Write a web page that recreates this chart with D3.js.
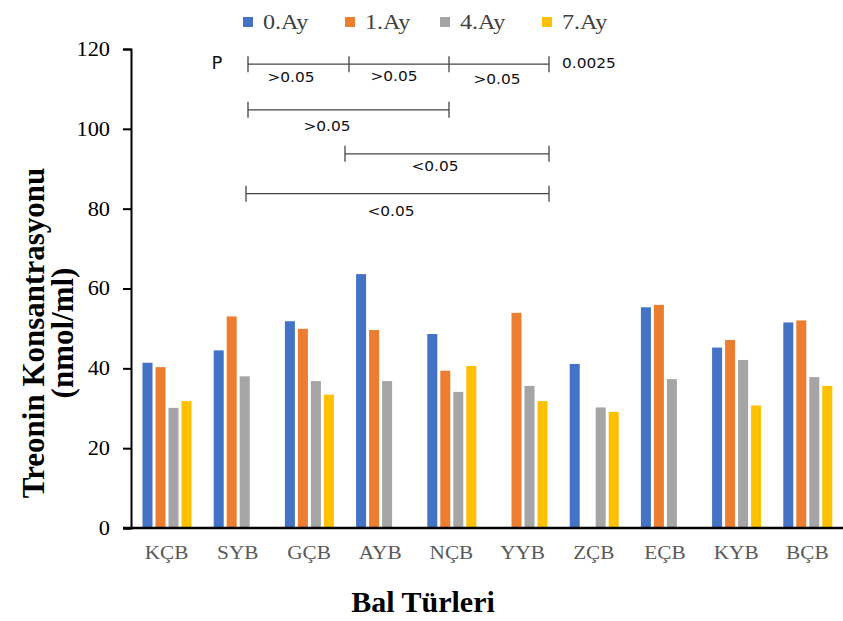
<!DOCTYPE html>
<html>
<head>
<meta charset="utf-8">
<script src="https://cdn.jsdelivr.net/npm/d3@7"></script>
<style>
  body { margin: 0; background: #fff; }
  text { font-family: "Liberation Serif", "Times New Roman", serif; }
</style>
</head>
<body>
<div id="chart"></div>
<script>
var categories = ['KÇB', 'SYB', 'GÇB', 'AYB', 'NÇB', 'YYB', 'ZÇB', 'EÇB', 'KYB', 'BÇB']
var seriesNames = ['0.Ay', '1.Ay', '4.Ay', '7.Ay']
var ay0 = [41.4, 44.5, 51.8, 63.6, 48.6, null, 41.1, 55.3, 45.2, 51.5]
var ay1 = [40.3, 53.0, 49.9, 49.6, 39.4, 53.9, null, 55.9, 47.1, 52.0]
var ay4 = [30.1, 38.0, 36.8, 36.8, 34.1, 35.6, 30.2, 37.3, 42.1, 37.8]
var ay7 = [31.8, null, 33.4, null, 40.6, 31.8, 29.1, null, 30.7, 35.6]
var yTicks = [0, 20, 40, 60, 80, 100, 120]
var colors = ['#4472C4', '#ED7D31', '#A5A5A5', '#FFC000']

// p-value brackets (x in px, y in axis units)
var brackets = [
  { x1: 248, x2: 549, y: 116.2, ticks: [248, 349, 449, 549] },
  { x1: 248, x2: 449, y: 104.75, ticks: [248, 449] },
  { x1: 345, x2: 549, y: 93.75, ticks: [345, 549] },
  { x1: 246, x2: 549, y: 83.75, ticks: [246, 549] }
]
var pLabels = [
  { text: '>0.05', x: 291, y: 112.7 },
  { text: '>0.05', x: 394, y: 113 },
  { text: '>0.05', x: 497, y: 112.3 },
  { text: '>0.05', x: 327, y: 100.5 },
  { text: '<0.05', x: 435, y: 90.3 },
  { text: '<0.05', x: 391, y: 79 }
]

var W = 843, H = 621
var m = { left: 131, right: 0, top: 49, bottom: 93 }
var SX = 1.12

function stretch(sel, origin, k){
  sel.style('transform-box', 'fill-box').style('transform-origin', origin)
    .style('transform', 'scaleX(' + (k || SX) + ')')
}

var svg = d3.select('#chart').append('svg').attr('width', W).attr('height', H)

var x = d3.scaleBand().domain(categories).range([m.left, W - m.right]).paddingInner(0).paddingOuter(0)
var y = d3.scaleLinear().domain([0, 120]).range([H - m.bottom, m.top])
var xs = d3.scaleBand().domain(seriesNames).range([11.5, 60.5]).paddingInner(0.23)

var data = [ay0, ay1, ay4, ay7]
data.forEach(function(vals, si){
  svg.append('g').selectAll('rect')
    .data(vals.map(function(v, i){ return { c: categories[i], v: v } }).filter(function(d){ return d.v != null }))
    .enter().append('rect')
    .attr('x', function(d){ return x(d.c) + xs(seriesNames[si]) })
    .attr('y', function(d){ return y(d.v) })
    .attr('width', xs.bandwidth())
    .attr('height', function(d){ return y(0) - y(d.v) })
    .attr('fill', colors[si])
})

// y axis
var ya = svg.append('g').attr('transform', 'translate(' + m.left + ',0)')
  .call(d3.axisLeft(y).tickValues(yTicks).tickSize(8).tickPadding(13))
ya.select('.domain').attr('stroke', '#000').attr('stroke-width', 2)
ya.selectAll('.tick line').attr('stroke', '#000').attr('stroke-width', 2)
ya.selectAll('.tick text').attr('font-size', 20).attr('fill', '#000')
  .style('font-family', '"Liberation Serif", serif')
  .call(stretch, 'right center')

// x axis
var xa = svg.append('g').attr('transform', 'translate(0,' + y(0) + ')')
  .call(d3.axisBottom(x).tickSize(0).tickPadding(18))
xa.select('.domain').attr('stroke', '#000').attr('stroke-width', 2.5)
  .attr('d', 'M' + (m.left - 8) + ',0H' + (W - m.right))
xa.selectAll('.tick text').attr('font-size', 19).attr('fill', '#595959')
  .style('font-family', '"Liberation Serif", serif')
  .call(stretch, 'center')

// brackets
brackets.forEach(function(b){
  svg.append('line').attr('x1', b.x1).attr('x2', b.x2).attr('y1', y(b.y)).attr('y2', y(b.y))
    .attr('stroke', '#444').attr('stroke-width', 1.3)
  b.ticks.forEach(function(t){
    svg.append('line').attr('x1', t).attr('x2', t).attr('y1', y(b.y) - 8).attr('y2', y(b.y) + 8)
      .attr('stroke', '#444').attr('stroke-width', 1.3)
  })
})
svg.selectAll('text.pl').data(pLabels).enter().append('text')
  .attr('class', 'pl')
  .attr('x', function(d){ return d.x }).attr('y', function(d){ return y(d.y) })
  .attr('text-anchor', 'middle').attr('dominant-baseline', 'middle')
  .attr('font-size', 14).style('font-family', '"DejaVu Sans", sans-serif').attr('fill', '#111')
  .text(function(d){ return d.text })
  .call(stretch, 'center', 1.1)
svg.append('text').attr('x', 217).attr('y', y(116.2)).attr('dominant-baseline', 'middle')
  .attr('text-anchor', 'middle').attr('font-size', 18).style('font-family', '"DejaVu Sans", sans-serif')
  .attr('fill', '#111').text('P')
svg.append('text').attr('x', 562).attr('y', y(116.2)).attr('dominant-baseline', 'middle')
  .attr('font-size', 14).style('font-family', '"DejaVu Sans", sans-serif').attr('fill', '#111').text('0.0025')
  .call(stretch, 'left center', 1.1)

// legend
var lx = [243, 345, 440, 542]
seriesNames.forEach(function(s, i){
  svg.append('rect').attr('x', lx[i]).attr('y', 17).attr('width', 10).attr('height', 10).attr('fill', colors[i])
  svg.append('text').attr('x', lx[i] + 20).attr('y', 29).attr('font-size', 21).attr('fill', '#404040').text(s)
    .call(stretch, 'left center', 1.15)
})

// titles
svg.append('text').attr('transform', 'translate(44,333) rotate(-90)').attr('text-anchor', 'middle')
  .attr('font-size', 31).attr('font-weight', 'bold').text('Treonin Konsantrasyonu')
svg.append('text').attr('transform', 'translate(73,333) rotate(-90)').attr('text-anchor', 'middle')
  .attr('font-size', 31).attr('font-weight', 'bold').text('(nmol/ml)')
svg.append('text').attr('x', 423).attr('y', 612).attr('text-anchor', 'middle')
  .attr('font-size', 30).attr('font-weight', 'bold').text('Bal Türleri')
</script>
</body>
</html>
